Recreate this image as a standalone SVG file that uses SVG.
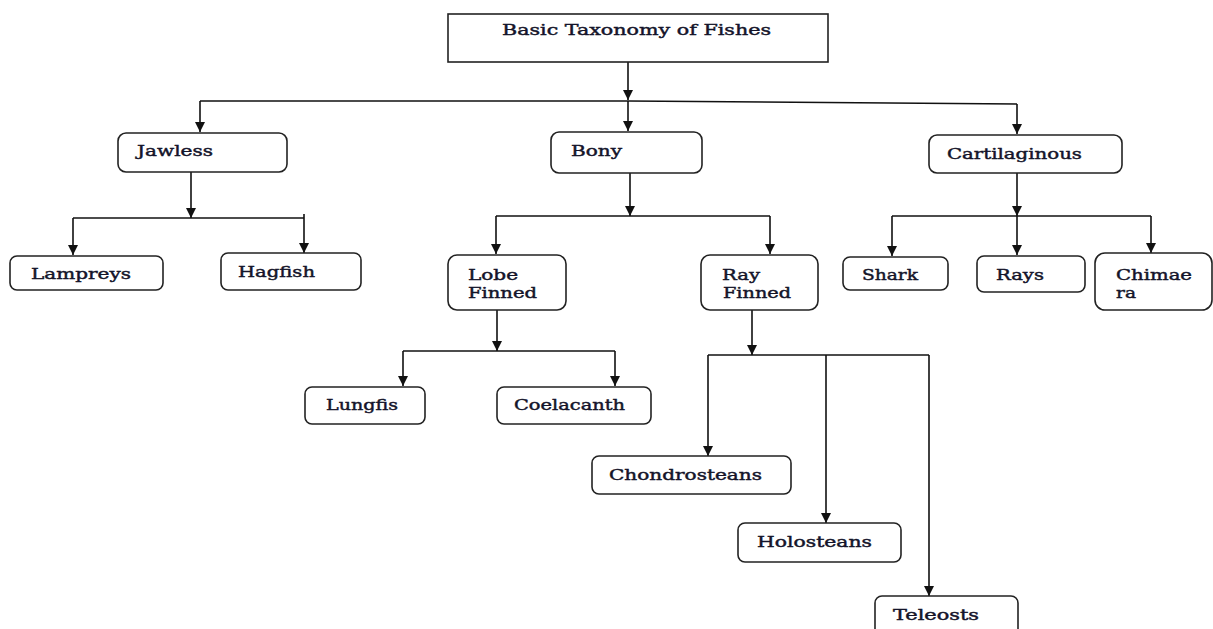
<svg xmlns="http://www.w3.org/2000/svg" width="1213" height="629" viewBox="0 0 1213 629">
<style>
.box{fill:#fff;stroke:#222;stroke-width:1.6}
.t{font-family:"DejaVu Serif","Liberation Serif",serif;font-size:15.5px;font-weight:normal;fill:#14142a;stroke:#14142a;stroke-width:0.45}
.c{fill:none;stroke:#111;stroke-width:1.6}
</style>
<defs>
<marker id="ah" viewBox="0 0 10 10" refX="10" refY="5" markerWidth="10" markerHeight="10" markerUnits="userSpaceOnUse" orient="auto">
<path d="M0,0 L10,5 L0,10 Z" fill="#111"/>
</marker>
</defs>
<g id="connectors">
<path class="c" d="M628,62 V100" marker-end="url(#ah)"/>
<path class="c" d="M200,101 L628,101 L1017,104"/>
<path class="c" d="M200,101 V132" marker-end="url(#ah)"/>
<path class="c" d="M628,101 V131" marker-end="url(#ah)"/>
<path class="c" d="M1017,104 V134" marker-end="url(#ah)"/>
<path class="c" d="M191,172 V218" marker-end="url(#ah)"/>
<path class="c" d="M73,218 H304"/>
<path class="c" d="M73,218 V255" marker-end="url(#ah)"/>
<path class="c" d="M304,214 V253" marker-end="url(#ah)"/>
<path class="c" d="M630,173 V216" marker-end="url(#ah)"/>
<path class="c" d="M496,216 H770"/>
<path class="c" d="M496,216 V254" marker-end="url(#ah)"/>
<path class="c" d="M770,216 V254" marker-end="url(#ah)"/>
<path class="c" d="M1017,173 V216" marker-end="url(#ah)"/>
<path class="c" d="M892,216 H1151"/>
<path class="c" d="M892,216 V256" marker-end="url(#ah)"/>
<path class="c" d="M1017,216 V255" marker-end="url(#ah)"/>
<path class="c" d="M1151,216 V253" marker-end="url(#ah)"/>
<path class="c" d="M497,310 V351" marker-end="url(#ah)"/>
<path class="c" d="M403,351 H615"/>
<path class="c" d="M403,351 V386" marker-end="url(#ah)"/>
<path class="c" d="M615,351 V386" marker-end="url(#ah)"/>
<path class="c" d="M752,310 V355" marker-end="url(#ah)"/>
<path class="c" d="M708,355 H929"/>
<path class="c" d="M708,355 V456" marker-end="url(#ah)"/>
<path class="c" d="M826,355 V523" marker-end="url(#ah)"/>
<path class="c" d="M929,355 V596" marker-end="url(#ah)"/>
</g>
<g id="root">
<rect x="448" y="14" width="380" height="48" fill="#fff" stroke="#222" stroke-width="1.6"/>
<text class="t" x="502" y="35" textLength="269" lengthAdjust="spacingAndGlyphs">Basic Taxonomy of Fishes</text>
</g>
<g id="jawless">
<rect class="box" x="118" y="133" width="169" height="39" rx="8"/>
<text class="t" x="137" y="156" textLength="76" lengthAdjust="spacingAndGlyphs">Jawless</text>
</g>
<g id="bony">
<rect class="box" x="551" y="132" width="151" height="41" rx="8"/>
<text class="t" x="571" y="156" textLength="51" lengthAdjust="spacingAndGlyphs">Bony</text>
</g>
<g id="cartilaginous">
<rect class="box" x="929" y="135" width="193" height="38" rx="8"/>
<text class="t" x="947" y="159" textLength="135" lengthAdjust="spacingAndGlyphs">Cartilaginous</text>
</g>
<g id="lampreys">
<rect class="box" x="10" y="256" width="153" height="34" rx="7"/>
<text class="t" x="31" y="279" textLength="100" lengthAdjust="spacingAndGlyphs">Lampreys</text>
</g>
<g id="hagfish">
<rect class="box" x="221" y="253" width="140" height="37" rx="7"/>
<text class="t" x="238" y="277" textLength="77" lengthAdjust="spacingAndGlyphs">Hagfish</text>
</g>
<g id="lobe-finned">
<rect class="box" x="448" y="255" width="118" height="55" rx="9"/>
<text class="t" x="468" y="280" textLength="50" lengthAdjust="spacingAndGlyphs">Lobe</text>
<text class="t" x="468" y="298" textLength="69" lengthAdjust="spacingAndGlyphs">Finned</text>
</g>
<g id="ray-finned">
<rect class="box" x="701" y="255" width="117" height="55" rx="9"/>
<text class="t" x="722" y="280" textLength="38" lengthAdjust="spacingAndGlyphs">Ray</text>
<text class="t" x="723" y="298" textLength="68" lengthAdjust="spacingAndGlyphs">Finned</text>
</g>
<g id="shark">
<rect class="box" x="843" y="257" width="105" height="33" rx="7"/>
<text class="t" x="862" y="280" textLength="56" lengthAdjust="spacingAndGlyphs">Shark</text>
</g>
<g id="rays">
<rect class="box" x="977" y="256" width="108" height="36" rx="7"/>
<text class="t" x="996" y="280" textLength="48" lengthAdjust="spacingAndGlyphs">Rays</text>
</g>
<g id="chimaera">
<rect class="box" x="1095" y="253" width="117" height="57" rx="10"/>
<text class="t" x="1116" y="280" textLength="76" lengthAdjust="spacingAndGlyphs">Chimae</text>
<text class="t" x="1116" y="298" textLength="20" lengthAdjust="spacingAndGlyphs">ra</text>
</g>
<g id="lungfish">
<rect class="box" x="305" y="387" width="120" height="37" rx="7"/>
<text class="t" x="326" y="410" textLength="72" lengthAdjust="spacingAndGlyphs">Lungfis</text>
</g>
<g id="coelacanth">
<rect class="box" x="497" y="387" width="154" height="37" rx="7"/>
<text class="t" x="514" y="410" textLength="111" lengthAdjust="spacingAndGlyphs">Coelacanth</text>
</g>
<g id="chondrosteans">
<rect class="box" x="592" y="456" width="199" height="38" rx="7"/>
<text class="t" x="609" y="480" textLength="153" lengthAdjust="spacingAndGlyphs">Chondrosteans</text>
</g>
<g id="holosteans">
<rect class="box" x="738" y="523" width="163" height="39" rx="7"/>
<text class="t" x="757" y="547" textLength="115" lengthAdjust="spacingAndGlyphs">Holosteans</text>
</g>
<g id="teleosts">
<rect class="box" x="875" y="596" width="143" height="50" rx="7"/>
<text class="t" x="893" y="620" textLength="86" lengthAdjust="spacingAndGlyphs">Teleosts</text>
</g>
</svg>
